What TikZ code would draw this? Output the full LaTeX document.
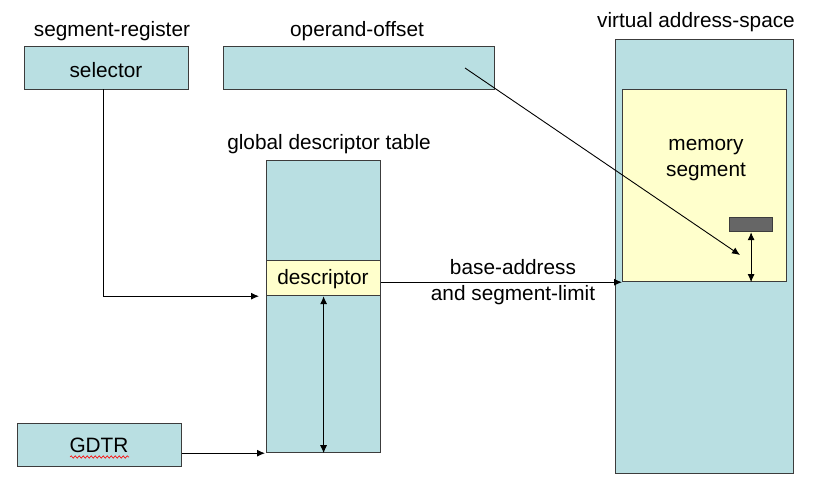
\documentclass[tikz,border=0pt]{standalone}
\usepackage{fontspec}
\setmainfont{Liberation Sans}
\usetikzlibrary{arrows.meta,decorations.pathmorphing}
\definecolor{paleblue}{RGB}{185,223,226}
\definecolor{paleyellow}{RGB}{255,255,204}
\definecolor{blockgray}{RGB}{102,102,102}
\definecolor{edgegray}{RGB}{60,60,60}
\tikzset{
  box/.style={draw=edgegray, line width=1.2pt, fill=paleblue, inner sep=0pt, anchor=north west},
  ybox/.style={box, fill=paleyellow},
  lbl/.style={inner sep=0pt, font=\fontsize{20.8}{26}\selectfont, align=center},
  conn/.style={draw=black, line width=0.9pt, -{Latex[length=8pt,width=7pt]}},
  dconn/.style={draw=black, line width=0.9pt, {Latex[length=8pt,width=7pt]}-{Latex[length=8pt,width=7pt]}}
}
\begin{document}
\begin{tikzpicture}[x=1pt,y=-1pt]
\useasboundingbox (0,0) rectangle (819,487);
% boxes
\node[box, minimum width=164pt, minimum height=43pt] (sel) at (24,46) {};
\node[lbl] (selt) at (106,70) {selector};
\node[box, minimum width=271pt, minimum height=43pt] (off) at (223,46) {};
\node[box, minimum width=178pt, minimum height=434pt] (vas) at (615,39) {};
\node[ybox, minimum width=164pt, minimum height=192pt] (mem) at (622,89) {};
\node[lbl] (memt) at (706,160) {memory\\segment};
\node[box, fill=blockgray, minimum width=43pt, minimum height=14pt] (blk) at (729,217) {};
\node[box, minimum width=114pt, minimum height=292pt] (gdt) at (266,160) {};
\node[ybox, minimum width=114pt, minimum height=35pt] (desc) at (266,260) {};
\node[lbl] (desct) at (323,279) {descriptor};
\node[box, minimum width=164pt, minimum height=43pt] (gdtr) at (17,423) {};
\node[lbl] (gdtrt) at (99,445) {GDTR};
% titles
\node[lbl] (t1) at (112,31) {segment-register};
\node[lbl] (t2) at (357,31) {operand-offset};
\node[lbl] (t3) at (329,144) {global descriptor table};
\node[lbl] (t4) at (696,22) {virtual address-space};
\node[lbl] (t5) at (513,282) {base-address\\and segment-limit};
% spell-check squiggle
\coordinate (sq1) at (70,457);
\coordinate (sq2) at (129,457);
\draw[red, line width=0.6pt, decorate, decoration={snake, amplitude=1.2pt, segment length=4pt}] (sq1) -- (sq2);
% connectors
\coordinate (selp) at (103,89);
\draw[conn, shorten >=7pt] (selp) |- (desc.south west);
\draw[conn, shorten >=1pt] (gdt.south west -| gdtr.east) -- (gdt.south west);
\draw[dconn] (desc.south) -- (desc.south |- gdt.south);
\draw[conn] (desc.east |- mem.south west) -- (mem.south west);
\coordinate (offp) at (465,68);
\coordinate (tgt) at (740,255);
\draw[conn] (offp) -- (tgt);
\draw[dconn] (blk.south) -- (blk.south |- mem.south);
\end{tikzpicture}
\end{document}
